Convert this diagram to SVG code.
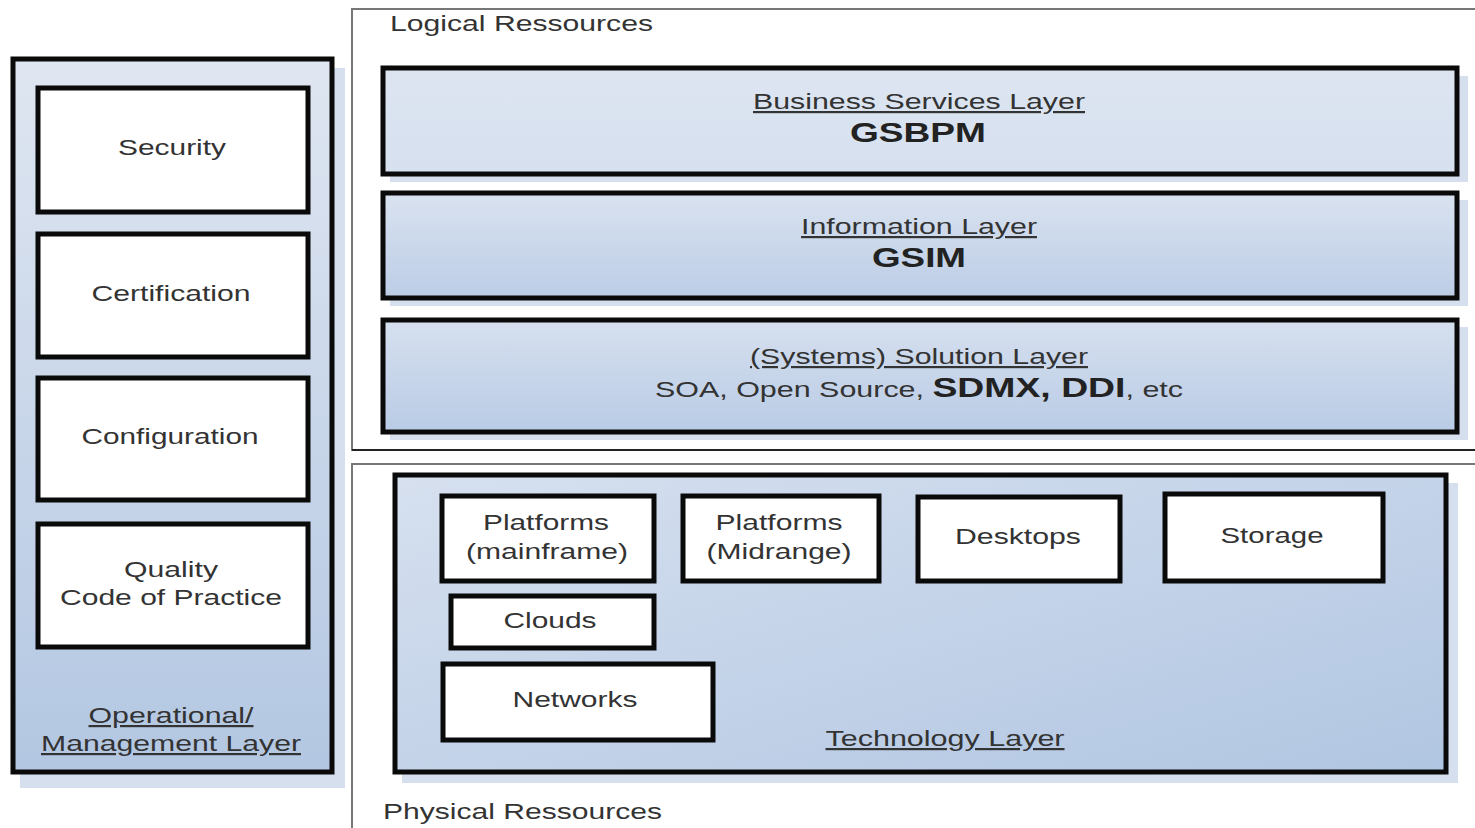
<svg xmlns="http://www.w3.org/2000/svg" width="1475" height="828" viewBox="0 0 1475 828">
<defs>
<linearGradient id="gPanel" x1="0" y1="0" x2="0" y2="1">
<stop offset="0" stop-color="#dfe6f1"/>
<stop offset="1" stop-color="#b3c7e2"/>
</linearGradient>
<linearGradient id="gBiz" x1="0" y1="0" x2="0" y2="1">
<stop offset="0" stop-color="#dde5f1"/>
<stop offset="1" stop-color="#d6e0ef"/>
</linearGradient>
<linearGradient id="gInfo" x1="0" y1="0" x2="0" y2="1">
<stop offset="0" stop-color="#d9e2f0"/>
<stop offset="1" stop-color="#bccde6"/>
</linearGradient>
<linearGradient id="gSol" x1="0" y1="0" x2="0" y2="1">
<stop offset="0" stop-color="#d6e0ef"/>
<stop offset="1" stop-color="#b9cbe5"/>
</linearGradient>
<linearGradient id="gTech" x1="0" y1="0" x2="1" y2="1">
<stop offset="0" stop-color="#d6e0ef"/>
<stop offset="1" stop-color="#b1c6e2"/>
</linearGradient>
</defs>
<style>
.box{fill:#ffffff;stroke:#0a0a0a;stroke-width:5}
.layer{stroke:#0a0a0a;stroke-width:5}
.shadow{fill:#d5dfee}
.t{font-family:"Liberation Sans",Arial,sans-serif;font-size:22px;fill:#333333;text-anchor:middle}
.u{text-decoration:underline}
.b{font-weight:bold;fill:#222222;font-size:27px}
.cont{fill:#ffffff;stroke:#777777;stroke-width:2}
.ct{font-family:"Liberation Sans",Arial,sans-serif;font-size:22px;fill:#333333}
</style>
<rect width="1475" height="828" fill="#ffffff"/>

<g id="logical-resources">
<rect class="cont" x="352" y="9" width="1130" height="441"/>
<line x1="352" y1="450" x2="1475" y2="450" stroke="#222" stroke-width="2"/>
<text class="ct" x="390" y="31" textLength="263" lengthAdjust="spacingAndGlyphs">Logical Ressources</text>
</g>

<g id="physical-resources">
<rect class="cont" x="352" y="464" width="1130" height="380"/>
<text class="ct" x="383" y="819" textLength="279" lengthAdjust="spacingAndGlyphs">Physical Ressources</text>
</g>

<g id="operational-layer">
<rect class="shadow" x="20" y="68" width="325" height="720"/>
<rect class="layer" x="13" y="59" width="319" height="713" fill="url(#gPanel)"/>
<text class="t u" x="171" y="723" textLength="165" lengthAdjust="spacingAndGlyphs">Operational/</text>
<text class="t u" x="171" y="751" textLength="260" lengthAdjust="spacingAndGlyphs">Management Layer</text>
</g>

<g id="security">
<rect class="box" x="38" y="88" width="270" height="124"/>
<text class="t" x="172" y="155" textLength="108" lengthAdjust="spacingAndGlyphs">Security</text>
</g>
<g id="certification">
<rect class="box" x="38" y="234" width="270" height="123"/>
<text class="t" x="171" y="301" textLength="159" lengthAdjust="spacingAndGlyphs">Certification</text>
</g>
<g id="configuration">
<rect class="box" x="38" y="378" width="270" height="122"/>
<text class="t" x="170" y="444" textLength="177" lengthAdjust="spacingAndGlyphs">Configuration</text>
</g>
<g id="quality">
<rect class="box" x="38" y="524" width="270" height="123"/>
<text class="t" x="171" y="577" textLength="94" lengthAdjust="spacingAndGlyphs">Quality</text>
<text class="t" x="171" y="605" textLength="222" lengthAdjust="spacingAndGlyphs">Code of Practice</text>
</g>

<g id="business-services-layer">
<rect class="shadow" x="390" y="76" width="1078" height="106"/>
<rect class="layer" x="383" y="68" width="1074" height="106" fill="url(#gBiz)"/>
<text class="t u" x="919" y="109" textLength="332" lengthAdjust="spacingAndGlyphs">Business Services Layer</text>
<text class="t b" x="918" y="142" textLength="136" lengthAdjust="spacingAndGlyphs">GSBPM</text>
</g>

<g id="information-layer">
<rect class="shadow" x="390" y="200" width="1078" height="106"/>
<rect class="layer" x="383" y="193" width="1074" height="105" fill="url(#gInfo)"/>
<text class="t u" x="919" y="234" textLength="236" lengthAdjust="spacingAndGlyphs">Information Layer</text>
<text class="t b" x="919" y="267" textLength="94" lengthAdjust="spacingAndGlyphs">GSIM</text>
</g>

<g id="solution-layer">
<rect class="shadow" x="390" y="327" width="1078" height="113"/>
<rect class="layer" x="383" y="320" width="1074" height="112" fill="url(#gSol)"/>
<text class="t u" x="919" y="364" textLength="338" lengthAdjust="spacingAndGlyphs">(Systems) Solution Layer</text>
<text class="t" x="919" y="397" textLength="528" lengthAdjust="spacingAndGlyphs">SOA, Open Source, <tspan font-weight="bold" font-size="27px" fill="#222">SDMX, DDI</tspan>, etc</text>
</g>

<g id="technology-layer">
<rect class="shadow" x="402" y="483" width="1056" height="300"/>
<rect class="layer" x="395" y="475" width="1051" height="297" fill="url(#gTech)"/>
<text class="t u" x="945" y="746" textLength="239" lengthAdjust="spacingAndGlyphs">Technology Layer</text>
</g>

<g id="platforms-mainframe">
<rect class="box" x="442" y="496" width="212" height="85"/>
<text class="t" x="546" y="530" textLength="126" lengthAdjust="spacingAndGlyphs">Platforms</text>
<text class="t" x="547" y="559" textLength="162" lengthAdjust="spacingAndGlyphs">(mainframe)</text>
</g>
<g id="platforms-midrange">
<rect class="box" x="683" y="496" width="196" height="85"/>
<text class="t" x="779" y="530" textLength="127" lengthAdjust="spacingAndGlyphs">Platforms</text>
<text class="t" x="779" y="559" textLength="145" lengthAdjust="spacingAndGlyphs">(Midrange)</text>
</g>
<g id="desktops">
<rect class="box" x="918" y="497" width="202" height="84"/>
<text class="t" x="1018" y="544" textLength="126" lengthAdjust="spacingAndGlyphs">Desktops</text>
</g>
<g id="storage">
<rect class="box" x="1165" y="494" width="218" height="87"/>
<text class="t" x="1272" y="543" textLength="103" lengthAdjust="spacingAndGlyphs">Storage</text>
</g>
<g id="clouds">
<rect class="box" x="451" y="596" width="203" height="52"/>
<text class="t" x="550" y="628" textLength="93" lengthAdjust="spacingAndGlyphs">Clouds</text>
</g>
<g id="networks">
<rect class="box" x="443" y="664" width="270" height="76"/>
<text class="t" x="575" y="707" textLength="125" lengthAdjust="spacingAndGlyphs">Networks</text>
</g>

<g id="connectors"/>
</svg>
